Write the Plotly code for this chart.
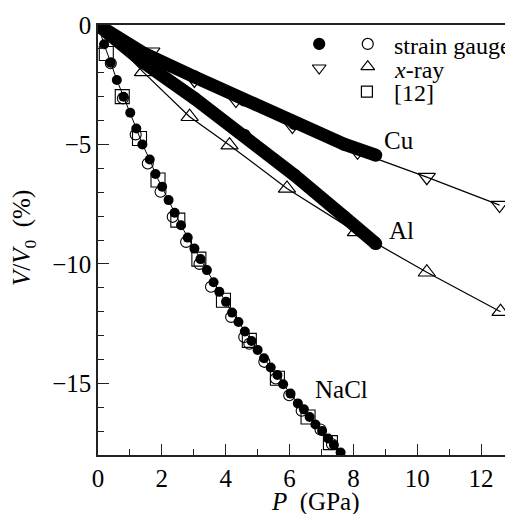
import plotly.graph_objects as go

# strain gauge, Cu and Al (dense runs drawn as a thick band)
cu_gauge_p = [0, 1.46, 3.02, 4.58, 6.15, 7.71, 8.7]
cu_gauge_v = [0, -1.2, -2.17, -3.14, -4.12, -4.99, -5.45]
al_gauge_p = [0, 1.46, 3.02, 4.58, 6.15, 7.71, 8.7]
al_gauge_v = [0, -1.6, -3.07, -4.61, -6.28, -8.03, -9.15]

# x-ray
cu_xray_p = [0, 1.67, 3.02, 4.32, 6.09, 8.13, 10.3, 12.58]
cu_xray_v = [0, -1.12, -2.30, -3.14, -4.23, -5.31, -6.37, -7.54]
al_xray_p = [0, 1.41, 2.87, 4.12, 5.92, 8.08, 10.3, 12.61]
al_xray_v = [0, -1.96, -3.84, -5.03, -6.84, -8.66, -10.35, -12.0]

# NaCl, strain gauge (filled)
nacl_p = [0, 0.19, 0.4, 0.59, 0.8, 1.01, 1.2, 1.39, 1.62, 1.8, 2.01, 2.21, 2.4, 2.6,
          2.81, 3.02, 3.21, 3.41, 3.62, 3.8, 4.01, 4.2, 4.4, 4.6, 4.81, 5.0, 5.2,
          5.41, 5.62, 5.8, 6.03, 6.26, 6.45, 6.63, 6.81, 7.02, 7.21, 7.39, 7.6]
nacl_v = [0, -0.81, -1.58, -2.3, -3.0, -3.67, -4.33, -5.0, -5.63, -6.24, -6.77, -7.33,
          -7.86, -8.38, -8.9, -9.36, -9.8, -10.26, -10.77, -11.17, -11.59, -12.04,
          -12.43, -12.83, -13.23, -13.6, -13.95, -14.34, -14.65, -15.04, -15.43,
          -15.84, -16.09, -16.41, -16.72, -17.0, -17.31, -17.58, -17.9]

# NaCl, strain gauge (open)
nacl2_p = [0.4, 0.78, 1.18, 1.56, 1.96, 2.34, 2.76, 3.18, 3.54, 4.17, 4.58, 4.74,
           5.21, 5.57, 5.99, 6.38, 6.97, 7.33]
nacl2_v = [-1.6, -3.07, -4.58, -5.8, -6.98, -8.03, -9.08, -10.0, -10.96, -12.22,
           -13.06, -13.34, -14.1, -14.8, -15.5, -16.15, -16.93, -17.55]

# NaCl, ref [12]
ref_p = [0.26, 0.76, 1.3, 1.88, 2.5, 3.16, 3.93, 4.74, 5.62, 6.58, 7.28]
ref_v = [-1.19, -3.0, -4.75, -6.49, -8.17, -9.8, -11.52, -13.2, -14.79, -16.41, -17.48]

FONT = "Liberation Serif, Times New Roman, serif"
BLACK = "#000000"

fig = go.Figure()

# x-ray data with thin guide lines
fig.add_trace(go.Scatter(x=cu_xray_p, y=cu_xray_v, mode="lines+markers",
                         line=dict(color=BLACK, width=1.2),
                         marker=dict(symbol="triangle-down-open", size=15, color=BLACK,
                                     line=dict(width=1.2))))
fig.add_trace(go.Scatter(x=al_xray_p, y=al_xray_v, mode="lines+markers",
                         line=dict(color=BLACK, width=1.2),
                         marker=dict(symbol="triangle-up-open", size=15, color=BLACK,
                                     line=dict(width=1.2))))

# thick strain gauge bands
for px, pv in [(cu_gauge_p, cu_gauge_v), (al_gauge_p, al_gauge_v)]:
    fig.add_trace(go.Scatter(x=px, y=pv, mode="lines+markers",
                             line=dict(color=BLACK, width=13),
                             marker=dict(symbol="circle", size=13, color=BLACK)))

# NaCl
fig.add_trace(go.Scatter(x=ref_p, y=ref_v, mode="markers",
                         marker=dict(symbol="square-open", size=14, color=BLACK,
                                     line=dict(width=1.1))))
fig.add_trace(go.Scatter(x=nacl2_p, y=nacl2_v, mode="markers",
                         marker=dict(symbol="circle-open", size=11, color=BLACK,
                                     line=dict(width=1.1))))
fig.add_trace(go.Scatter(x=nacl_p, y=nacl_v, mode="lines+markers",
                         line=dict(color=BLACK, width=1),
                         marker=dict(symbol="circle", size=10, color=BLACK)))

# legend keys on an overlay axis (0..1 over the plot area)
keys = [
    (0.533, 0.956, "circle", 11),
    (0.650, 0.956, "circle-open", 11),
    (0.533, 0.900, "triangle-down-open", 12),
    (0.650, 0.903, "triangle-up-open", 12),
    (0.648, 0.845, "square-open", 11),
]
for kx, ky, sym, sz in keys:
    fig.add_trace(go.Scatter(x=[kx], y=[ky], xaxis="x2", yaxis="y2", mode="markers",
                             marker=dict(symbol=sym, size=sz, color=BLACK,
                                         line=dict(width=1.2, color=BLACK))))

legend_text = [("strain gauge", 0.951), ("<i>x</i>-ray", 0.895), ("[12]", 0.842)]
for txt, ty in legend_text:
    fig.add_annotation(x=0.708, y=ty, xref="paper", yref="paper", text=txt,
                       showarrow=False, xanchor="left", yanchor="middle",
                       font=dict(size=24))

for txt, lx, ly in [("Cu", 9.43, -4.82), ("Al", 9.52, -8.59), ("NaCl", 7.64, -15.25)]:
    fig.add_annotation(x=lx, y=ly, text=txt, showarrow=False,
                       xanchor="center", yanchor="middle", font=dict(size=25))

# axis titles as annotations so they sit where the reference has them
fig.add_annotation(x=0.525, y=-0.109, xref="paper", yref="paper",
                   text="<i>P</i>\u00a0\u00a0(GPa)", showarrow=False,
                   xanchor="center", yanchor="middle", font=dict(size=25))
fig.add_annotation(x=-0.178, y=0.505, xref="paper", yref="paper",
                   text="<i>V</i>/<i>V</i><sub>0</sub>\u00a0\u00a0(%)", showarrow=False,
                   textangle=-90, xanchor="center", yanchor="middle", font=dict(size=25))

axis_common = dict(showline=True, linecolor="#222222", linewidth=1.5,
                   ticks="inside", tickcolor="#222222", tickwidth=1.3, ticklen=11,
                   showgrid=False, zeroline=False,
                   tickfont=dict(size=25, family=FONT, color=BLACK))

# the page body has an 8px margin, so the figure is 8px smaller and margins shifted
fig.update_layout(
    width=505, height=506,
    margin=dict(l=90, r=0, t=17, b=59, autoexpand=False),
    paper_bgcolor="white", plot_bgcolor="white",
    font=dict(family=FONT, color=BLACK),
    showlegend=False,
    xaxis=dict(range=[0, 13], dtick=2, tick0=0, mirror=True,
               minor=dict(dtick=1, ticks="inside", ticklen=6, tickcolor="#222222"),
               **axis_common),
    yaxis=dict(range=[-18, 0], dtick=5, tick0=0,
               minor=dict(dtick=1, ticks="inside", ticklen=6, tickcolor="#222222"),
               **axis_common),
    xaxis2=dict(range=[0, 1], overlaying="x", visible=False),
    yaxis2=dict(range=[0, 1], overlaying="y", visible=False),
)

fig.write_html("out.html")
